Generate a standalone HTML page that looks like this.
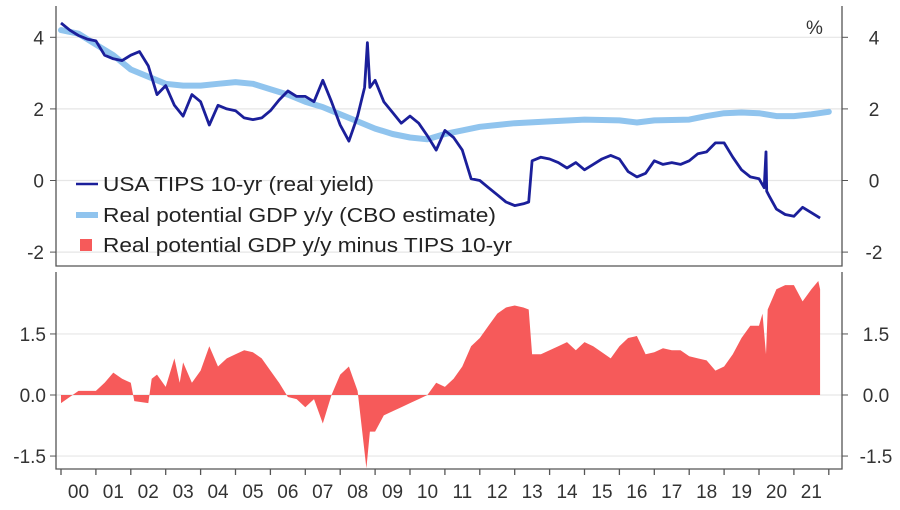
<!DOCTYPE html>
<html><head><meta charset="utf-8"><style>
body{margin:0;background:#fff;}
svg{display:block;font-family:"Liberation Sans",sans-serif;}
</style></head><body>
<svg id="chart" width="900" height="510" viewBox="0 0 900 510">
<g id="grid"></g>
<g id="marks"></g>
<g id="axes"></g>
<text x="806" y="34" font-size="19" fill="#333">%</text>
<g font-size="20.5" fill="#222">
  <g><line x1="76" y1="184" x2="98" y2="184" stroke="#1b1f9a" stroke-width="2.5"/><text x="103" y="191" textLength="271" lengthAdjust="spacingAndGlyphs">USA TIPS 10-yr (real yield)</text></g>
  <g><line x1="76" y1="215" x2="98" y2="215" stroke="#90c4ee" stroke-width="6"/><text x="103" y="222" textLength="393" lengthAdjust="spacingAndGlyphs">Real potential GDP y/y (CBO estimate)</text></g>
  <g><rect x="80" y="239" width="12" height="12" fill="#f65a5a"/><text x="103" y="252" textLength="409" lengthAdjust="spacingAndGlyphs">Real potential GDP y/y minus TIPS 10-yr</text></g>
</g>
</svg>
<script>
const tipsYears=[2000,2000.25,2000.5,2000.75,2001,2001.25,2001.5,2001.75,2002,2002.25,2002.5,2002.75,2003,2003.25,2003.5,2003.75,2004,2004.25,2004.5,2004.75,2005,2005.25,2005.5,2005.75,2006,2006.25,2006.5,2006.75,2007,2007.25,2007.5,2007.75,2008,2008.25,2008.5,2008.7,2008.78,2008.85,2009,2009.25,2009.5,2009.75,2010,2010.25,2010.5,2010.75,2011,2011.25,2011.5,2011.75,2012,2012.25,2012.5,2012.75,2013,2013.25,2013.4,2013.5,2013.75,2014,2014.25,2014.5,2014.75,2015,2015.25,2015.5,2015.75,2016,2016.25,2016.5,2016.75,2017,2017.25,2017.5,2017.75,2018,2018.25,2018.5,2018.75,2019,2019.25,2019.5,2019.75,2020,2020.15,2020.2,2020.22,2020.3,2020.5,2020.75,2021,2021.25,2021.5,2021.75];
const tipsValues=[4.4,4.2,4.05,3.95,3.9,3.5,3.4,3.35,3.5,3.6,3.2,2.4,2.65,2.1,1.8,2.4,2.2,1.55,2.1,2.0,1.95,1.75,1.7,1.75,1.95,2.25,2.5,2.35,2.35,2.2,2.8,2.2,1.55,1.1,1.8,2.6,3.85,2.6,2.8,2.2,1.9,1.6,1.8,1.6,1.25,0.85,1.4,1.2,0.85,0.05,0,-0.2,-0.4,-0.6,-0.7,-0.65,-0.6,0.55,0.65,0.6,0.5,0.35,0.5,0.3,0.45,0.6,0.7,0.6,0.25,0.1,0.2,0.55,0.45,0.5,0.45,0.55,0.75,0.8,1.05,1.05,0.65,0.3,0.1,0.05,-0.2,0.8,-0.3,-0.45,-0.8,-0.95,-1.0,-0.75,-0.9,-1.05];
const cboYears=[2000,2000.5,2001,2001.5,2002,2002.5,2003,2003.5,2004,2004.5,2005,2005.5,2006,2006.5,2007,2007.5,2008,2008.5,2009,2009.5,2010,2010.5,2011,2011.5,2012,2012.5,2013,2014,2015,2016,2016.5,2017,2018,2018.5,2019,2019.5,2020,2020.5,2021,2021.5,2022];
const cboValues=[4.2,4.1,3.8,3.5,3.1,2.9,2.7,2.65,2.65,2.7,2.75,2.7,2.55,2.4,2.2,2.05,1.85,1.65,1.45,1.3,1.2,1.15,1.3,1.4,1.5,1.55,1.6,1.65,1.7,1.68,1.62,1.68,1.7,1.8,1.88,1.9,1.88,1.8,1.8,1.85,1.92];
const diffYears=[2000,2000.5,2001,2001.25,2001.5,2001.75,2002,2002.1,2002.5,2002.6,2002.75,2003,2003.25,2003.4,2003.5,2003.75,2004,2004.25,2004.5,2004.75,2005,2005.25,2005.5,2005.75,2006,2006.25,2006.5,2006.75,2007,2007.25,2007.5,2007.75,2008,2008.25,2008.5,2008.75,2008.85,2009,2009.25,2009.5,2009.75,2010,2010.25,2010.5,2010.75,2011,2011.25,2011.5,2011.75,2012,2012.25,2012.5,2012.75,2013,2013.25,2013.4,2013.5,2013.75,2014,2014.25,2014.5,2014.75,2015,2015.25,2015.5,2015.75,2016,2016.25,2016.5,2016.75,2017,2017.25,2017.5,2017.75,2018,2018.25,2018.5,2018.75,2019,2019.25,2019.5,2019.75,2020,2020.1,2020.2,2020.25,2020.5,2020.75,2021,2021.25,2021.5,2021.7,2021.75];
const diffValues=[-0.2,0.1,0.1,0.3,0.55,0.4,0.3,-0.15,-0.2,0.4,0.5,0.2,0.9,0.3,0.8,0.3,0.6,1.2,0.7,0.9,1.0,1.1,1.05,0.9,0.6,0.3,-0.05,-0.1,-0.3,-0.1,-0.7,0,0.5,0.7,0.1,-1.8,-0.9,-0.9,-0.5,-0.4,-0.3,-0.2,-0.1,0,0.3,0.2,0.4,0.7,1.2,1.4,1.7,2.0,2.15,2.2,2.15,2.1,1.0,1.0,1.1,1.2,1.3,1.1,1.3,1.2,1.05,0.9,1.2,1.4,1.45,1.0,1.05,1.15,1.1,1.1,0.95,0.9,0.85,0.6,0.7,1.0,1.4,1.7,1.7,2.0,1.0,2.1,2.6,2.7,2.7,2.3,2.6,2.8,2.6];
const topTicks=[4,2,0,-2];
const botTicks=[1.5,0.0,-1.5];
const botTickLabels=["1.5","0.0","-1.5"];
const yearLabels=["00","01","02","03","04","05","06","07","08","09","10","11","12","13","14","15","16","17","18","19","20","21"];

const NS="http://www.w3.org/2000/svg";
const L=56,R=842;
const xS=y=>61+(y-2000)*34.9;
const yTop=v=>180.5-v*35.8;
const yBot=v=>395-v*40.7;
function mk(tag,attrs,parent){const e=document.createElementNS(NS,tag);for(const k in attrs)e.setAttribute(k,attrs[k]);parent.appendChild(e);return e;}
const grid=document.getElementById('grid'),marks=document.getElementById('marks'),axes=document.getElementById('axes');

topTicks.forEach(t=>{
  const y=yTop(t);
  const g=mk('line',{x1:L,x2:R,y1:y,y2:y,stroke:'#e6e6e6','stroke-width':1.2},grid);
  
  
  mk('line',{x1:L-6,x2:L,y1:y,y2:y,stroke:'#555'},axes);
  mk('line',{x1:R,x2:R+6,y1:y,y2:y,stroke:'#555'},axes);
  const a=mk('text',{x:44,y:y+7,'font-size':19,fill:'#333','text-anchor':'end'},axes);a.textContent=t;
  
  
  const b=mk('text',{x:874,y:y+7,'font-size':19,fill:'#333','text-anchor':'middle'},axes);b.textContent=t;
  
  
});
botTicks.forEach((t,i)=>{
  const y=yBot(t);
  const g=mk('line',{x1:L,x2:R,y1:y,y2:y,stroke:'#e6e6e6','stroke-width':1.2},grid);
  
  
  mk('line',{x1:L-6,x2:L,y1:y,y2:y,stroke:'#555'},axes);
  mk('line',{x1:R,x2:R+6,y1:y,y2:y,stroke:'#555'},axes);
  const a=mk('text',{x:46,y:y+7,'font-size':19,fill:'#333','text-anchor':'end'},axes);a.textContent=botTickLabels[i];
  
  
  const b=mk('text',{x:876,y:y+7,'font-size':19,fill:'#333','text-anchor':'middle'},axes);b.textContent=botTickLabels[i];
  
  
});
mk('path',{d:`M${L},6 V266 H${R} V6`,fill:'none',stroke:'#555','stroke-width':1.3},axes);
mk('path',{d:`M${L},272 V469 H${R} V272`,fill:'none',stroke:'#555','stroke-width':1.3},axes);
for(let i=0;i<=22;i++){mk('line',{x1:xS(2000+i),x2:xS(2000+i),y1:469,y2:475,stroke:'#555','stroke-width':1.3},axes);}
yearLabels.forEach((lab,i)=>{
  const t=mk('text',{x:xS(2000+i+0.5),y:498,'font-size':19,fill:'#333','text-anchor':'middle'},axes);t.textContent=lab;
  
  
});
let d=`M${xS(diffYears[0])},${yBot(0)}`;
diffYears.forEach((yr,i)=>{d+=` L${xS(yr).toFixed(1)},${yBot(diffValues[i]).toFixed(1)}`;});
d+=` L${xS(diffYears[diffYears.length-1])},${yBot(0)} Z`;
const area=mk('path',{d:d,fill:'#f65a5a'},marks);


const cbo=mk('polyline',{points:cboYears.map((y,i)=>xS(y).toFixed(1)+','+yTop(cboValues[i]).toFixed(1)).join(' '),fill:'none',stroke:'#90c4ee','stroke-width':6,'stroke-linejoin':'round','stroke-linecap':'round'},marks);


const tips=mk('polyline',{points:tipsYears.map((y,i)=>xS(y).toFixed(1)+','+yTop(tipsValues[i]).toFixed(1)).join(' '),fill:'none',stroke:'#1b1f9a','stroke-width':2.8,'stroke-linejoin':'round'},marks);


</script>
</body></html>
